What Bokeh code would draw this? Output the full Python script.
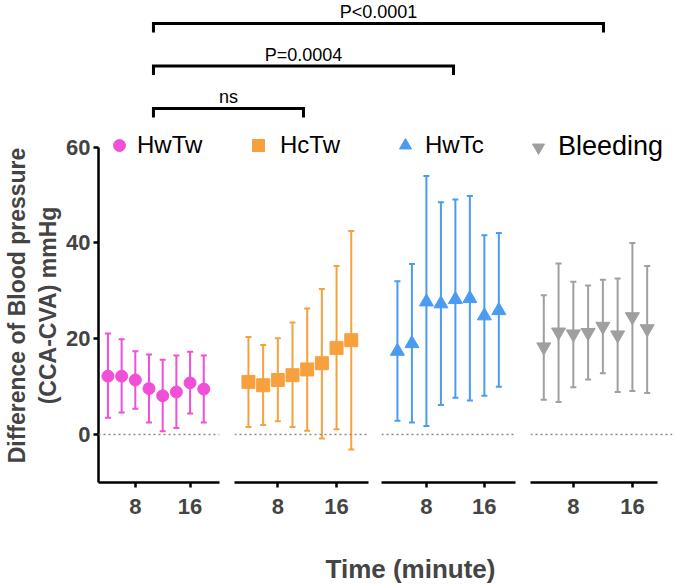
from bokeh.plotting import figure
from bokeh.models import (ColumnDataSource, Whisker, TeeHead, Span, Legend, LegendItem,
                          Range1d, FixedTicker)
from bokeh.layouts import column, row
from bokeh.embed import file_html
from bokeh.resources import INLINE
from bokeh.core.properties import value

# ---------------- data ----------------
time_min = [4, 6, 8, 10, 12, 14, 16, 18]
group_names = ["HwTw", "HcTw", "HwTc", "Bleeding"]

hwtw_mean = [12.2, 12.2, 11.4, 9.6, 8.1, 8.9, 10.8, 9.5]
hwtw_upper = [21.1, 19.9, 17.4, 16.7, 15.6, 16.5, 17.3, 16.5]
hwtw_lower = [3.5, 4.6, 5.4, 2.5, 0.7, 1.4, 4.4, 2.5]

hctw_mean = [11.0, 10.3, 11.4, 12.4, 13.6, 14.9, 18.1, 19.7]
hctw_upper = [20.4, 18.7, 20.1, 23.4, 26.3, 30.4, 35.2, 42.5]
hctw_lower = [1.6, 2.0, 2.8, 1.6, 0.8, -0.8, 1.1, -3.1]

hwtc_mean = [17.4, 19.0, 27.7, 27.3, 28.2, 28.4, 24.8, 25.9]
hwtc_upper = [32.0, 35.6, 54.0, 48.5, 49.1, 49.8, 41.6, 42.1]
hwtc_lower = [2.9, 2.5, 1.8, 6.2, 7.7, 7.1, 8.1, 10.0]

bleed_mean = [18.3, 21.4, 21.0, 21.3, 22.6, 20.8, 24.6, 22.1]
bleed_upper = [29.1, 35.7, 31.9, 31.1, 32.3, 32.6, 40.0, 35.2]
bleed_lower = [7.3, 6.8, 9.9, 11.5, 12.8, 8.9, 9.1, 8.7]

y_ticks = [0, 20, 40, 60]
x_ticks = [8, 16]

bracket_from = [0, 0, 0]
bracket_to = [1, 2, 3]
bracket_level = [0, 1, 2]
bracket_text = ["ns", "P=0.0004", "P<0.0001"]

# ---------------- style ----------------
FONT = "Liberation Sans"
means = [hwtw_mean, hctw_mean, hwtc_mean, bleed_mean]
uppers = [hwtw_upper, hctw_upper, hwtc_upper, bleed_upper]
lowers = [hwtw_lower, hctw_lower, hwtc_lower, bleed_lower]
colors = ["#F24FD8", "#F7A13E", "#4B9BF2", "#9F9F9F"]
markers = ["circle", "square", "triangle", "inverted_triangle"]
msizes = [12, 13, 14, 14]
xranges = [(2.62, 20.3), (2.1, 20.35), (1.8, 20.3), (2.2, 21.43)]
axis_bounds = [(2.62, 20.3), (2.1, 20.35), (1.8, 20.3), (2.2, 19.4)]
widths = [226, 148, 148, 153]
borders_lr = [(91, 7), (8, 6), (7, 7), (8, 3)]
leg_x = [6, 9, 9, -7]
leg_y = [322, 322, 322, 320]
leg_font = ["24px", "24px", "24px", "27px"]
leg_standoff = [3, 7, 5, 5]

Y_RANGE = (-10, 63.9)
PANEL_TOP, FRAME_H, PANEL_BOTTOM = 1, 354, 69

panels = []
for i in range(4):
    bl, br = borders_lr[i]
    p = figure(width=widths[i], height=PANEL_TOP + FRAME_H + PANEL_BOTTOM,
               x_range=Range1d(*xranges[i]), y_range=Range1d(*Y_RANGE),
               min_border_left=bl, min_border_right=br,
               min_border_top=PANEL_TOP, min_border_bottom=PANEL_BOTTOM,
               y_axis_location="left" if i == 0 else None,
               toolbar_location=None, output_backend="svg",
               outline_line_color=None, background_fill_color="white",
               border_fill_color="white")
    p.xgrid.visible = False
    p.ygrid.visible = False

    src = ColumnDataSource(dict(t=time_min, mean=means[i], upper=uppers[i], lower=lowers[i]))
    p.add_layout(Span(location=0, dimension="width", line_color="#8a8a8a",
                      line_width=1.5, line_dash="2 3"))
    wh = Whisker(source=src, base="t", upper="upper", lower="lower", dimension="height",
                 line_color=colors[i], line_width=2, level="underlay",
                 upper_head=TeeHead(size=6, line_color=colors[i], line_width=2),
                 lower_head=TeeHead(size=6, line_color=colors[i], line_width=2))
    p.add_layout(wh)
    r = p.scatter("t", "mean", source=src, marker=markers[i], size=msizes[i],
                  fill_color=colors[i], line_color=colors[i])

    leg = Legend(items=[LegendItem(label=group_names[i], renderers=[r])],
                 location=(leg_x[i], leg_y[i]), glyph_width=30, glyph_height=30,
                 label_height=30, label_standoff=leg_standoff[i], padding=0, margin=0,
                 spacing=0, border_line_color=None, background_fill_alpha=0,
                 label_text_font=FONT, label_text_font_size=leg_font[i],
                 label_text_color="black")
    p.add_layout(leg)

    ax = p.xaxis[0]
    ax.bounds = axis_bounds[i]
    ax.ticker = FixedTicker(ticks=x_ticks)
    ax.axis_line_width = 2.5
    ax.major_tick_line_width = 2.5
    ax.major_tick_out = 5
    ax.major_tick_in = 0
    ax.minor_tick_line_color = None
    ax.major_label_text_font = FONT
    ax.major_label_text_font_style = "bold"
    ax.major_label_text_font_size = "22px"
    ax.major_label_standoff = 11

    if i == 0:
        ay = p.yaxis[0]
        ay.bounds = (-10, 60)
        ay.ticker = FixedTicker(ticks=y_ticks)
        ay.axis_line_width = 2.5
        ay.major_tick_line_width = 2.5
        ay.major_tick_out = 5
        ay.major_tick_in = 0
        ay.minor_tick_line_color = None
        ay.major_label_text_font = FONT
        ay.major_label_text_font_style = "bold"
        ay.major_label_text_font_size = "22px"
        ay.major_label_standoff = 3
        ay.axis_label = "Difference of Blood pressure\n(CCA-CVA) mmHg"
        ay.axis_label_text_font = FONT
        ay.axis_label_text_font_style = "bold"
        ay.axis_label_text_font_size = "23px"
        ay.axis_label_standoff = 2
    panels.append(p)

total_w = sum(widths)

# ---------------- significance brackets ----------------
top = figure(width=total_w, height=127, x_range=Range1d(-0.413, 3.36),
             y_range=Range1d(-0.447, 2.541),
             min_border_left=91, min_border_right=18, min_border_top=0, min_border_bottom=0,
             x_axis_location=None, y_axis_location=None, toolbar_location=None,
             output_backend="svg", outline_line_color=None)
top.xgrid.visible = False
top.ygrid.visible = False
drop = 0.21
xs = [[a, a, b, b] for a, b in zip(bracket_from, bracket_to)]
ys = [[l - drop, l, l, l - drop] for l in bracket_level]
top.multi_line(xs, ys, line_color="black", line_width=3, line_join="miter")
top.text(x=[(a + b) / 2 for a, b in zip(bracket_from, bracket_to)],
         y=[l + 0.26 for l in bracket_level], text=bracket_text,
         text_align="center", text_baseline="middle", text_font=value(FONT),
         text_font_size="18px", text_color="black")

# ---------------- x title ----------------
strip = figure(width=total_w, height=33, x_range=Range1d(0, 1), y_range=Range1d(0, 1),
               min_border_left=91, min_border_right=18, min_border_top=0, min_border_bottom=0,
               x_axis_location=None, y_axis_location=None, toolbar_location=None,
               output_backend="svg", outline_line_color=None)
strip.xgrid.visible = False
strip.ygrid.visible = False
strip.title.text = "Time (minute)"
strip.title.align = "left"
strip.title.offset = 234
strip.title.text_font = FONT
strip.title.text_font_style = "bold"
strip.title.text_font_size = "26px"
strip.title.standoff = 0

layout = column(top, row(*panels), strip)
open("out.html", "w").write(file_html(layout, INLINE))
